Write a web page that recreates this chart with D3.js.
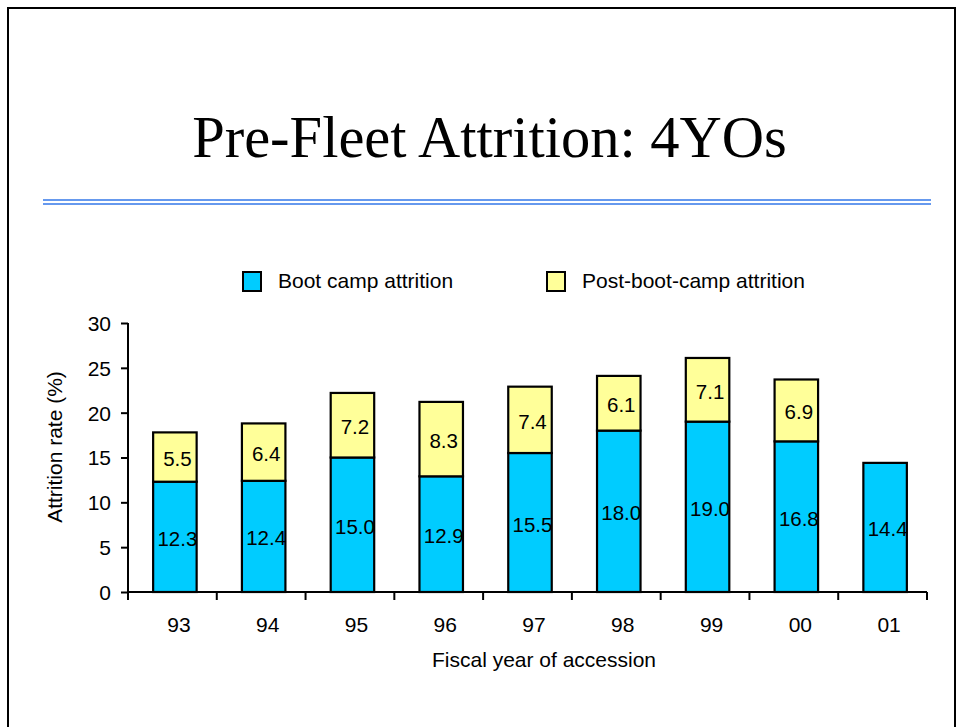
<!DOCTYPE html>
<html>
<head>
<meta charset="utf-8">
<script src="https://cdn.jsdelivr.net/npm/d3@7"></script>
<style>
  html, body { margin: 0; padding: 0; background: #fff; }
  svg { display: block; }
  text { font-family: "Liberation Sans", Arial, sans-serif; fill: #000; }
</style>
</head>
<body>
<svg id="chart" width="960" height="727"></svg>
<script>
// ---- data ----
const years = ["93", "94", "95", "96", "97", "98", "99", "00", "01"];
const bootCamp = [12.3, 12.4, 15.0, 12.9, 15.5, 18.0, 19.0, 16.8, 14.4];
const postBootCamp = [5.5, 6.4, 7.2, 8.3, 7.4, 6.1, 7.1, 6.9, null];
const yTicks = [0, 5, 10, 15, 20, 25, 30];
const seriesNames = ["Boot camp attrition", "Post-boot-camp attrition"];
const seriesColors = ["#00CCFF", "#FFFF99"];
const titleText = "Pre-Fleet Attrition: 4YOs";
const xTitle = "Fiscal year of accession";
const yTitle = "Attrition rate (%)";

const svg = d3.select("#chart");

// slide frame
svg.append("path")
  .attr("d", "M8,740 L8,8 L955,8 L955,740")
  .attr("fill", "none").attr("stroke", "#000").attr("stroke-width", 2);

// title
svg.append("text")
  .attr("x", 489.5).attr("y", 157)
  .attr("text-anchor", "middle")
  .style("font-family", "'Liberation Serif', 'Times New Roman', serif")
  .style("font-size", "58.5px")
  .text(titleText);

// double rule
[200, 204].forEach(y => {
  svg.append("line")
    .attr("x1", 43).attr("x2", 931).attr("y1", y).attr("y2", y)
    .attr("stroke", "#6699EE").attr("stroke-width", 2);
});

// scales
const plotLeft = 128, plotRight = 927, plotTop = 323, plotBottom = 592;
const x = d3.scaleBand().domain(years).range([plotLeft, plotRight]).paddingInner(0.51).paddingOuter(0.255);
const xEdge = d3.scaleLinear().domain([0, years.length]).range([plotLeft, plotRight]);
const y = d3.scaleLinear().domain([0, 30]).range([plotBottom, plotTop]);
const barShift = 2.5, textShift = 5;

// stacked data
const rows = years.map((yr, i) => ({ year: yr, boot: bootCamp[i], post: postBootCamp[i] }));
const stack = d3.stack().keys(["boot", "post"]).value((d, k) => d[k] == null ? 0 : d[k]);
const layers = stack(rows);

const gBars = svg.append("g");
layers.forEach((layer, li) => {
  gBars.selectAll(null)
    .data(layer.filter(d => d.data[li === 0 ? "boot" : "post"] != null))
    .enter().append("rect")
    .attr("x", d => x(d.data.year) + barShift)
    .attr("width", x.bandwidth())
    .attr("y", d => y(d[1]))
    .attr("height", d => y(d[0]) - y(d[1]))
    .attr("fill", seriesColors[li])
    .attr("stroke", "#000").attr("stroke-width", 2.2);
});

// value labels
layers.forEach((layer, li) => {
  const key = li === 0 ? "boot" : "post";
  svg.selectAll(null)
    .data(layer.filter(d => d.data[key] != null))
    .enter().append("text")
    .attr("x", d => x(d.data.year) + x.bandwidth() / 2 + textShift)
    .attr("y", d => y((d[0] + d[1]) / 2) + 9)
    .attr("text-anchor", "middle")
    .style("font-size", "20.5px")
    .text(d => d.data[key].toFixed(1));
});

// y axis
const yAxis = d3.axisLeft(y).tickValues(yTicks).tickSize(7).tickPadding(10).tickSizeOuter(0);
const gy = svg.append("g").attr("transform", `translate(${plotLeft},0)`).call(yAxis);
gy.select(".domain").attr("stroke", "#000").attr("stroke-width", 2)
  .attr("d", `M0,${plotTop}V${plotBottom}`);
gy.selectAll(".tick line").attr("stroke", "#000").attr("stroke-width", 2);
gy.selectAll(".tick text").style("font-size", "21px").style("font-family", "'Liberation Sans', Arial, sans-serif").attr("dy", "0.35em");

// x axis (category boundaries as ticks)
const gx = svg.append("g").attr("transform", `translate(0,${plotBottom})`);
gx.append("line").attr("x1", plotLeft).attr("x2", plotRight).attr("y1", 0).attr("y2", 0)
  .attr("stroke", "#000").attr("stroke-width", 2);
gx.selectAll(null).data(d3.range(years.length + 1)).enter().append("line")
  .attr("x1", d => xEdge(d)).attr("x2", d => xEdge(d))
  .attr("y1", 0).attr("y2", 8)
  .attr("stroke", "#000").attr("stroke-width", 2);
gx.selectAll(null).data(years).enter().append("text")
  .attr("x", d => x(d) + x.bandwidth() / 2 + barShift + 4)
  .attr("y", 40)
  .attr("text-anchor", "middle")
  .style("font-size", "21px")
  .text(d => d);

// axis titles
svg.append("text")
  .attr("x", 544).attr("y", 667)
  .attr("text-anchor", "middle")
  .style("font-size", "21px")
  .text(xTitle);

svg.append("text")
  .attr("transform", "translate(62,447) rotate(-90)")
  .attr("text-anchor", "middle")
  .style("font-size", "21px")
  .text(yTitle);

// legend
const legendPos = [{ sx: 243, tx: 278 }, { sx: 547, tx: 582 }];
seriesNames.forEach((name, i) => {
  svg.append("rect")
    .attr("x", legendPos[i].sx).attr("y", 272)
    .attr("width", 18).attr("height", 19)
    .attr("fill", seriesColors[i]).attr("stroke", "#000").attr("stroke-width", 2);
  svg.append("text")
    .attr("x", legendPos[i].tx).attr("y", 288)
    .style("font-size", "21px")
    .text(name);
});
</script>
</body>
</html>
